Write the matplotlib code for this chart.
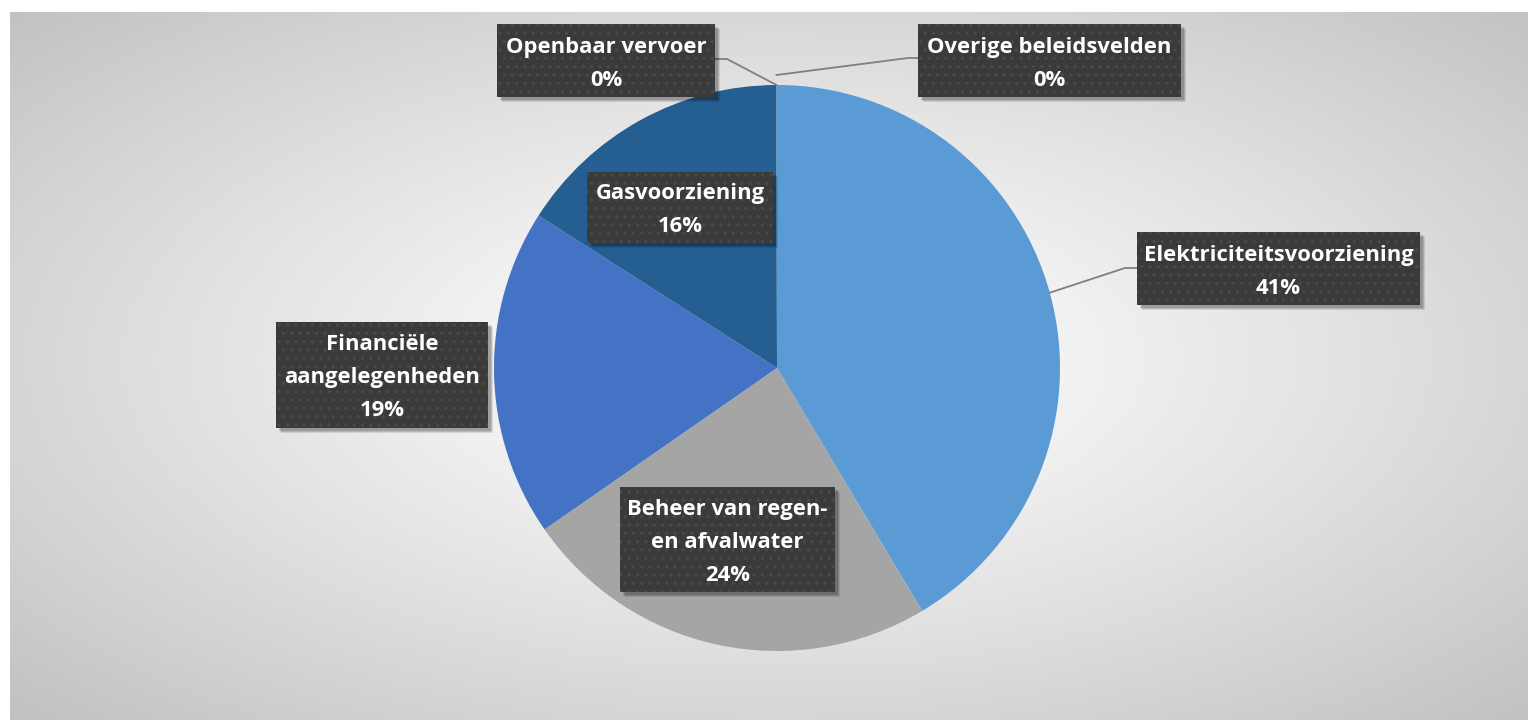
import numpy as np
import matplotlib
matplotlib.use("Agg")
import matplotlib.pyplot as plt
from matplotlib.patches import Rectangle

# ---- data ----
categories = ["Elektriciteitsvoorziening", "Beheer van regen-\nen afvalwater",
              "Financiële\naangelegenheden", "Gasvoorziening",
              "Openbaar vervoer", "Overige beleidsvelden"]
values = [41.4, 23.9, 18.7, 15.9, 0.02, 0.02]
colors = ["#5B9BD5", "#A5A5A5", "#4472C4", "#255E91", "#255E91", "#5B9BD5"]

W, H = 1528, 720
fig = plt.figure(figsize=(W / 100, H / 100), dpi=100)
fig.patch.set_facecolor("white")

# ---- gradient background panel ----
x0, y0 = 10, 12
bg = fig.add_axes([x0 / W, 0, (W - x0) / W, (H - y0) / H], zorder=0)
xs = np.linspace(x0, W, 400)
ys = np.linspace(y0, H, 200)
X, Y = np.meshgrid(xs, ys)
cx, cy = 777, 360
d = np.sqrt(((X - cx) / (W / 2)) ** 2 + ((Y - cy) / (H / 2)) ** 2) / np.sqrt(2)
c = np.clip(255 - 62 * d ** 1.2, 0, 255) / 255
img = np.dstack([c, c, c])
bg.imshow(img, aspect="auto", extent=[x0, W, H, y0])
bg.set_axis_off()

# ---- pie ----
pcx, pcy, R = 777, 368, 283
pax = fig.add_axes([(pcx - R) / W, (H - pcy - R) / H, 2 * R / W, 2 * R / H], zorder=1)
pax.set_facecolor("none")
wedges, _ = pax.pie(values, colors=colors, startangle=90, counterclock=False,
                    radius=1.0, wedgeprops=dict(linewidth=0))
pax.set_xlim(-1, 1)
pax.set_ylim(-1, 1)
pax.set_aspect("equal")
pax.set_axis_off()

# ---- overlay for labels ----
ov = fig.add_axes([0, 0, 1, 1], zorder=2)
ov.set_xlim(0, W)
ov.set_ylim(H, 0)
ov.set_axis_off()
ov.patch.set_alpha(0)

total = sum(values)
pcts = [f"{round(v / total * 100):.0f}%" for v in values]

# box layouts: (x_left, y_top, x_right, y_bottom)
boxes = [
    (1137, 232, 1420, 305),
    (620, 487, 835, 592),
    (276, 322, 488, 428),
    (587, 172, 773, 243),
    (497, 24, 715, 97),
    (918, 24, 1181, 97),
]

def edge_point(w):
    ang = np.deg2rad((w.theta1 + w.theta2) / 2)
    return pcx + R * np.cos(ang), pcy - R * np.sin(ang)

line_kw = dict(color="#7f7f7f", lw=1.3, zorder=3)
ex, ey = edge_point(wedges[0])
ov.plot([ex, 1125, 1137], [ey, 268, 268], **line_kw)
ox, oy = edge_point(wedges[4])
ov.plot([ox, 727, 715], [oy, 59, 59], **line_kw)
ov.plot([ox, 908, 918], [75, 58, 58], **line_kw)

plt.rcParams["hatch.linewidth"] = 1.2
for (l, t, r, b), cat, pct in zip(boxes, categories, pcts):
    for k, a in [(5, 0.10), (4, 0.12), (3, 0.15)]:
        ov.add_patch(Rectangle((l + k, t + k), r - l, b - t, facecolor="black",
                               edgecolor="none", alpha=a, zorder=4))
    ov.add_patch(Rectangle((l, t), r - l, b - t, facecolor="#3a3a3a",
                           edgecolor="#494949", linewidth=0, hatch="..", zorder=5))
    ov.text((l + r) / 2, (t + b) / 2 + 3, f"{cat}\n{pct}", ha="center", va="center",
            color="white", fontsize=15.8, fontweight="bold", family=["Open Sans", "DejaVu Sans"],
            linespacing=1.75, zorder=6)

fig.savefig("out.png", dpi=100)
